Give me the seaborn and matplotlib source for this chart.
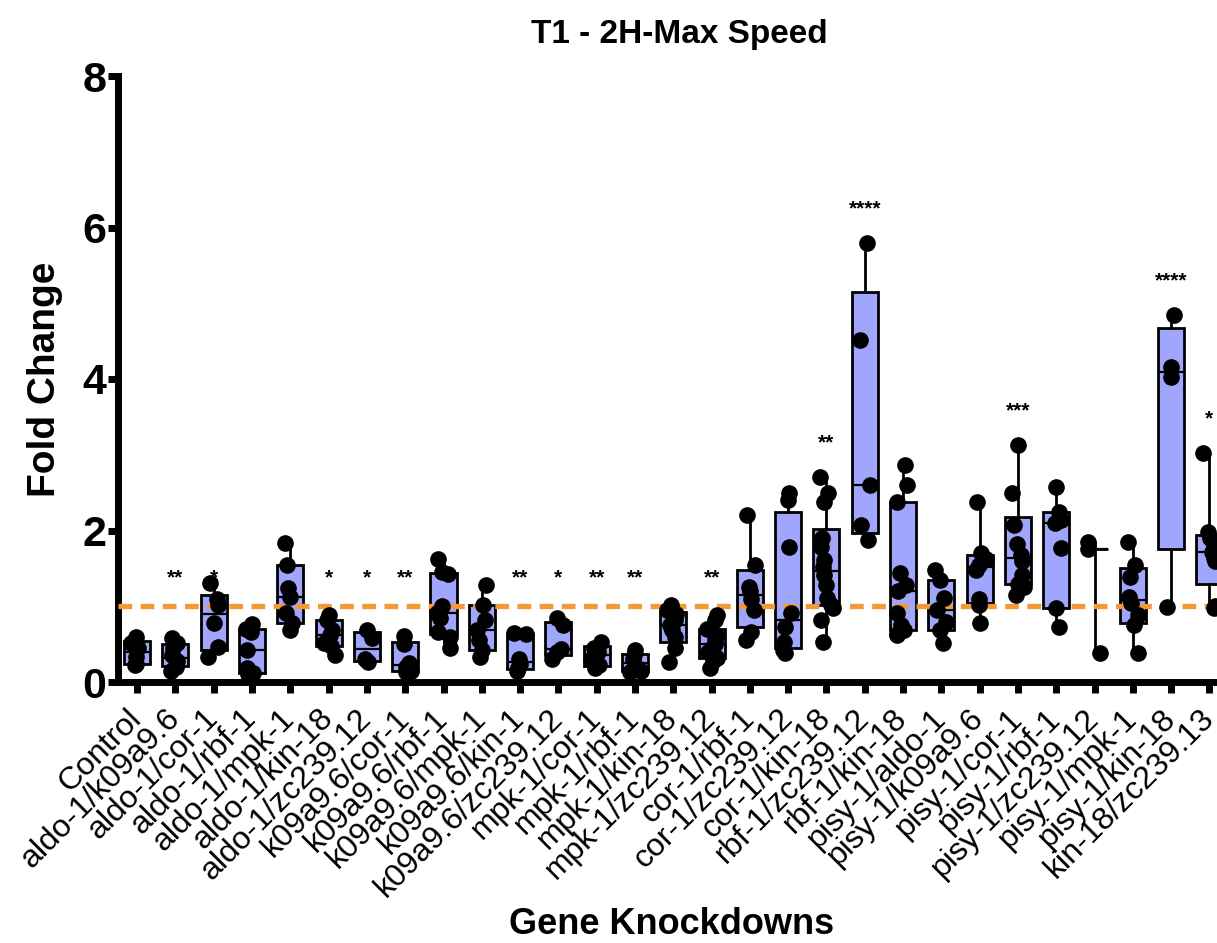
import numpy as np
import pandas as pd
import matplotlib
matplotlib.use("Agg")
import matplotlib.pyplot as plt
import seaborn as sns

# gene knockdown groups (x axis)
labels = ["Control", "aldo-1/k09a9.6", "aldo-1/cor-1", "aldo-1/rbf-1", "aldo-1/mpk-1",
          "aldo-1/kin-18", "aldo-1/zc239.12", "k09a9.6/cor-1", "k09a9.6/rbf-1",
          "k09a9.6/mpk-1", "k09a9.6/kin-1", "k09a9.6/zc239.12", "mpk-1/cor-1",
          "mpk-1/rbf-1", "mpk-1/kin-18", "mpk-1/zc239.12", "cor-1/rbf-1",
          "cor-1/zc239.12", "cor-1/kin-18", "rbf-1/zc239.12", "rbf-1/kin-18",
          "pisy-1/aldo-1", "pisy-1/k09a9.6", "pisy-1/cor-1", "pisy-1/rbf-1",
          "pisy-1/zc239.12", "pisy-1/mpk-1", "pisy-1/kin-18", "kin-18/zc239.13"]

# fold change per worm
control = [0.60, 0.52, 0.45, 0.33, 0.24, 0.22]
aldo_k09 = [0.58, 0.52, 0.45, 0.35, 0.28, 0.22, 0.15, 0.20]
aldo_cor = [1.31, 1.10, 1.02, 0.78, 0.46, 0.33]
aldo_rbf = [0.77, 0.70, 0.66, 0.42, 0.18, 0.12, 0.10]
aldo_mpk = [1.83, 1.55, 1.24, 1.12, 0.91, 0.78, 0.69]
aldo_kin = [0.88, 0.82, 0.68, 0.62, 0.52, 0.48, 0.35]
aldo_zc = [0.69, 0.58, 0.30, 0.27]
k09_cor = [0.61, 0.50, 0.25, 0.20, 0.15, 0.13]
k09_rbf = [1.62, 1.45, 1.42, 1.00, 0.91, 0.85, 0.66, 0.60, 0.45]
k09_mpk = [1.28, 1.02, 0.82, 0.69, 0.55, 0.42, 0.33]
k09_kin = [0.65, 0.63, 0.30, 0.24, 0.18, 0.15]
k09_zc = [0.84, 0.75, 0.44, 0.40, 0.30]
mpk_cor = [0.53, 0.45, 0.40, 0.30, 0.22, 0.18]
mpk_rbf = [0.42, 0.36, 0.30, 0.20, 0.15, 0.13]
mpk_kin = [1.02, 0.95, 0.90, 0.82, 0.75, 0.69, 0.60, 0.45, 0.27]
mpk_zc = [0.88, 0.82, 0.70, 0.62, 0.55, 0.50, 0.45, 0.40, 0.32, 0.28, 0.19]
cor_rbf = [2.20, 1.55, 1.25, 1.20, 1.10, 0.95, 0.66, 0.55]
cor_zc = [2.50, 2.40, 1.78, 0.91, 0.73, 0.53, 0.42, 0.38]
cor_kin = [2.70, 2.50, 2.38, 1.90, 1.78, 1.61, 1.52, 1.41, 1.28, 1.11, 1.02, 0.98, 0.82, 0.53]
rbf_zc = [5.80, 4.51, 2.60, 2.07, 1.87]
rbf_kin = [2.86, 2.60, 2.38, 1.44, 1.28, 1.20, 0.91, 0.75, 0.68, 0.64, 0.62]
pisy_aldo = [1.48, 1.35, 1.11, 0.95, 0.79, 0.68, 0.51]
pisy_k09 = [2.38, 1.70, 1.62, 1.55, 1.48, 1.10, 1.02, 0.78]
pisy_cor = [3.13, 2.49, 2.07, 1.82, 1.68, 1.60, 1.41, 1.30, 1.26, 1.15]
pisy_rbf = [2.58, 2.25, 2.14, 2.10, 1.77, 0.98, 0.73]
pisy_zc = [1.85, 1.75, 0.38]
pisy_mpk = [1.85, 1.55, 1.39, 1.12, 1.04, 0.88, 0.75, 0.38]
pisy_kin = [4.85, 4.16, 4.03, 0.99]
kin_zc = [3.02, 1.98, 1.90, 1.80, 1.72, 1.64, 1.60, 1.00, 0.98]

# significance vs control
stars = ["", "**", "*", "", "", "*", "*", "**", "", "", "**", "*", "**", "**", "",
         "**", "", "", "**", "****", "", "", "", "***", "", "", "", "****", "*"]

groups = [control, aldo_k09, aldo_cor, aldo_rbf, aldo_mpk, aldo_kin, aldo_zc,
          k09_cor, k09_rbf, k09_mpk, k09_kin, k09_zc, mpk_cor, mpk_rbf, mpk_kin,
          mpk_zc, cor_rbf, cor_zc, cor_kin, rbf_zc, rbf_kin, pisy_aldo, pisy_k09,
          pisy_cor, pisy_rbf, pisy_zc, pisy_mpk, pisy_kin, kin_zc]

# long format for seaborn
df = pd.DataFrame([{"group": lab, "fold": v} for lab, vals in zip(labels, groups) for v in vals])

sns.set_theme(style="ticks")
plt.rcParams["font.family"] = ["Liberation Sans", "DejaVu Sans"]
plt.rcParams["text.color"] = "black"
plt.rcParams["axes.labelcolor"] = "black"
plt.rcParams["xtick.color"] = "black"
plt.rcParams["ytick.color"] = "black"

fig = plt.figure(figsize=(12.17, 9.43), dpi=100)
ax = fig.add_axes([118 / 1217, 1 - 682 / 943, 1 - 118 / 1217, 606 / 943])


def box_stats(vals):
    # prism style quartiles, whiskers min to max
    q1, med, q3 = np.percentile(vals, [25, 50, 75], method="weibull")
    if len(vals) < 4:
        q1 = q3 = med
    return {"med": med, "q1": q1, "q3": q3, "whislo": min(vals),
            "whishi": max(vals), "fliers": []}


stats = [box_stats(v) for v in groups]
ax.bxp(stats, positions=range(len(labels)), widths=0.68, patch_artist=True,
       showcaps=False, manage_ticks=False,
       boxprops=dict(facecolor="#a0a6fb", edgecolor="black", linewidth=2.0),
       whiskerprops=dict(color="black", linewidth=2.0),
       medianprops=dict(color="black", linewidth=1.6), zorder=2)

# reference line at fold change 1
ax.axhline(1, color="#f39a36", linewidth=3.8, linestyle=(0, (2.6, 1.6)), zorder=3)

np.random.seed(2)
sns.stripplot(data=df, x="group", y="fold", order=labels, color="black", size=12,
              jitter=0.17, linewidth=0, ax=ax, zorder=4)

# significance stars: fixed row for low groups, above the top point otherwise
for i, (vals, s) in enumerate(zip(groups, stars)):
    if s:
        y = max(vals) + 0.45 if max(vals) > 2 else 1.37
        ax.text(i, y, s, ha="center", va="center", fontsize=15,
                fontweight="bold", color="black", zorder=1)

ax.set_xlim(-0.5, (1217 - 137) / 38.3)
ax.set_ylim(0, 8)
ax.set_yticks([0, 2, 4, 6, 8])
ax.set_xticks(range(len(labels)))
ax.set_xticklabels(labels, rotation=45, ha="right", va="center",
                   rotation_mode="anchor", fontsize=23)
for t in ax.get_yticklabels():
    t.set_fontweight("bold")
ax.tick_params(axis="y", labelsize=31, width=5, length=7, pad=1.5, color="black")
ax.tick_params(axis="x", width=5, length=8, pad=15, color="black")

sns.despine(ax=ax)
for side in ["left", "bottom"]:
    ax.spines[side].set_linewidth(5)
    ax.spines[side].set_color("black")

ax.set_title("T1 - 2H-Max Speed", fontsize=24, fontweight="bold", pad=24)
ax.title.set_position((0.511, 1.0))
ax.set_ylabel("Fold Change", fontsize=28, fontweight="bold")
ax.yaxis.set_label_coords(-0.05, 0.5)
ax.set_xlabel("Gene Knockdowns", fontsize=26, fontweight="bold")
ax.xaxis.set_label_coords(0.504, -0.372)

fig.savefig("out.png", dpi=100)
